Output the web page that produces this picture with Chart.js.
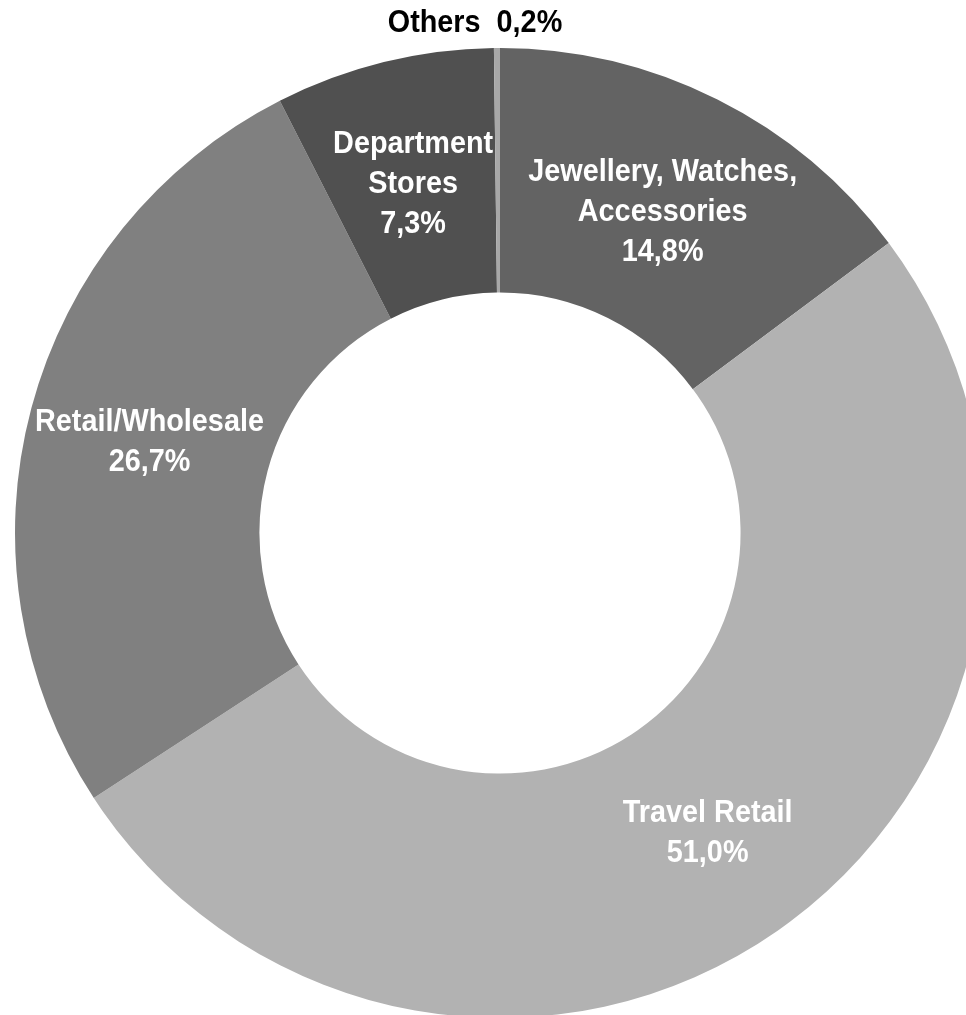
<!DOCTYPE html>
<html>
<head>
<meta charset="utf-8">
<script src="https://cdn.jsdelivr.net/npm/chart.js@4.4.0/dist/chart.umd.min.js"></script>
<style>
  html, body { margin: 0; padding: 0; background: #fff; overflow: hidden; }
  #wrap { position: absolute; left: 0; top: 0; width: 1000px; height: 1030px; }
</style>
</head>
<body>
<div id="wrap"><canvas id="salesChart" width="1000" height="1030"></canvas></div>
<script>
// sales split by channel, clockwise from 12 o'clock
const channels = ['Jewellery, Watches, Accessories', 'Travel Retail', 'Retail/Wholesale', 'Department Stores', 'Others'];
const shares = [14.8, 51.0, 26.7, 7.3, 0.2];
const labelLines = [
  ['Jewellery, Watches,', 'Accessories', '14,8%'],
  ['Travel Retail', '51,0%'],
  ['Retail/Wholesale', '26,7%'],
  ['Department', 'Stores', '7,3%'],
  ['Others  0,2%']
];
const sliceColors = ['#636363', '#b2b2b2', '#808080', '#505050', '#a8a8a8'];

// the original uses a narrow bold face, so squeeze a regular bold one a bit
const FONT = 'bold 32px "Liberation Sans", Arial, sans-serif';
const X_SCALE = 0.9;
const LINE_H = 40;

function squeezedText(ctx, t, x, y) {
  ctx.save();
  ctx.translate(x, y);
  ctx.scale(X_SCALE, 1);
  ctx.fillText(t, 0, 0);
  ctx.restore();
}

// draws the labels on the slices (Others goes above the ring in black)
const sliceLabels = {
  id: 'sliceLabels',
  afterDatasetsDraw(chart) {
    const ctx = chart.ctx;
    const meta = chart.getDatasetMeta(0);
    ctx.save();
    ctx.font = FONT;
    ctx.textAlign = 'center';
    ctx.textBaseline = 'middle';
    meta.data.forEach((arc, i) => {
      const lines = labelLines[i];
      if (i === meta.data.length - 1) {
        ctx.fillStyle = '#000';
        squeezedText(ctx, lines[0], arc.x - 25, arc.y - arc.outerRadius - 25);
        return;
      }
      const pos = arc.tooltipPosition();
      ctx.fillStyle = '#fff';
      const y0 = pos.y + 3 - (lines.length - 1) * LINE_H / 2;
      lines.forEach((t, k) => squeezedText(ctx, t, pos.x, y0 + k * LINE_H));
    });
    ctx.restore();
  }
};

new Chart(document.getElementById('salesChart'), {
  type: 'doughnut',
  data: {
    labels: channels,
    datasets: [{
      data: shares,
      backgroundColor: sliceColors,
      borderWidth: 0
    }]
  },
  options: {
    responsive: false,
    animation: false,
    cutout: '49.6%',
    layout: { padding: { left: 15, right: 15, top: 48, bottom: 12 } },
    plugins: {
      legend: { display: false },
      tooltip: { enabled: false }
    }
  },
  plugins: [sliceLabels]
});
</script>
</body>
</html>
